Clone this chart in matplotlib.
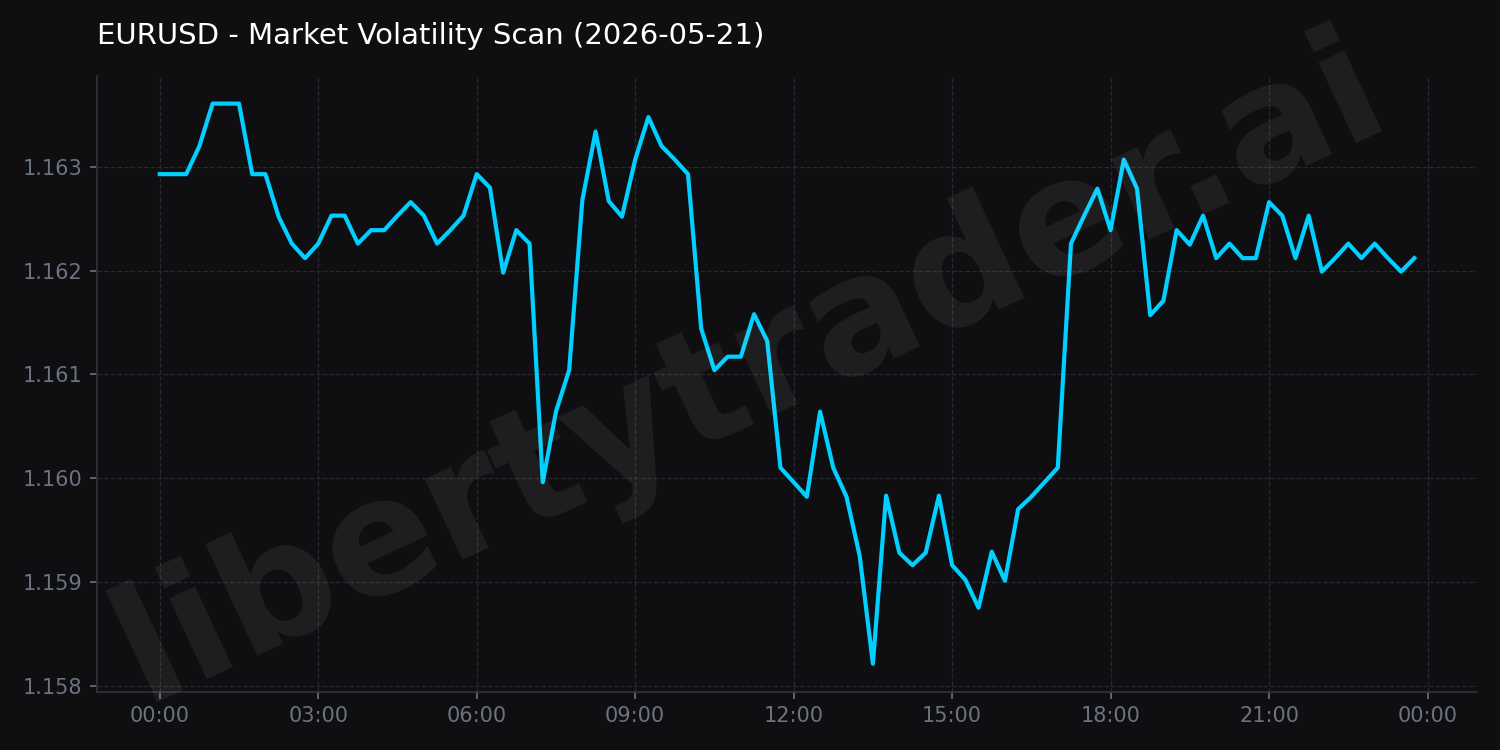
import matplotlib
matplotlib.use("Agg")
import matplotlib.pyplot as plt
import matplotlib.dates as mdates
import matplotlib.ticker as mticker
import pandas as pd

# EURUSD 15-minute closes, 2026-05-21
symbol = "EURUSD"
day = "2026-05-21"
prices = [
    1.16293, 1.16293, 1.16293, 1.16320, 1.16361, 1.16361, 1.16361, 1.16293,
    1.16293, 1.16252, 1.16226, 1.16212, 1.16226, 1.16253, 1.16253, 1.16226,
    1.16239, 1.16239, 1.16253, 1.16266, 1.16253, 1.16226, 1.16239, 1.16253,
    1.16293, 1.16280, 1.16198, 1.16239, 1.16226, 1.15996, 1.16064, 1.16104,
    1.16268, 1.16334, 1.16267, 1.16252, 1.16307, 1.16348, 1.16320, 1.16307,
    1.16293, 1.16144, 1.16104, 1.16117, 1.16117, 1.16158, 1.16132, 1.16010,
    1.15996, 1.15982, 1.16064, 1.16010, 1.15982, 1.15925, 1.15821, 1.15983,
    1.15928, 1.15916, 1.15928, 1.15983, 1.15916, 1.15902, 1.15875, 1.15929,
    1.15901, 1.15970, 1.15982, 1.15996, 1.16010, 1.16226, 1.16253, 1.16279,
    1.16239, 1.16307, 1.16279, 1.16157, 1.16171, 1.16239, 1.16225, 1.16253,
    1.16212, 1.16226, 1.16212, 1.16212, 1.16266, 1.16253, 1.16212, 1.16253,
    1.16199, 1.16212, 1.16226, 1.16212, 1.16226, 1.16212, 1.16199, 1.16212,
]
times = pd.date_range(f"{day} 00:00", periods=len(prices), freq="15min")

BG = "#0f0f12"
LINE = "#00cfff"
MUTED = "#6b7280"

fig = plt.figure(figsize=(10, 5), dpi=150, facecolor=BG)
ax = fig.add_axes([0.0647, 0.0777, 0.92, 0.8215])
ax.set_facecolor(BG)

# watermark behind everything
fig.text(0.5, 0.505, "libertytrader.ai", fontsize=78, fontweight="bold",
         color="white", alpha=0.07, rotation=25, ha="center", va="center",
         zorder=0)

ax.plot(times, prices, color=LINE, linewidth=2, zorder=3)

ax.set_title(f"{symbol} - Market Volatility Scan ({day})", loc="left",
             color="white", fontsize=14, pad=15)

ax.xaxis.set_major_locator(mdates.HourLocator(byhour=range(0, 24, 3)))
ax.xaxis.set_major_formatter(mdates.DateFormatter("%H:%M"))
ax.yaxis.set_major_formatter(mticker.FormatStrFormatter("%.3f"))

ax.tick_params(colors=MUTED, labelsize=10)
ax.grid(True, color="#29292d", linestyle="--", linewidth=0.6)
for side in ("top", "right"):
    ax.spines[side].set_visible(False)
for side in ("left", "bottom"):
    ax.spines[side].set_color("#333338")

fig.savefig("out.png", dpi=150, facecolor=BG)
